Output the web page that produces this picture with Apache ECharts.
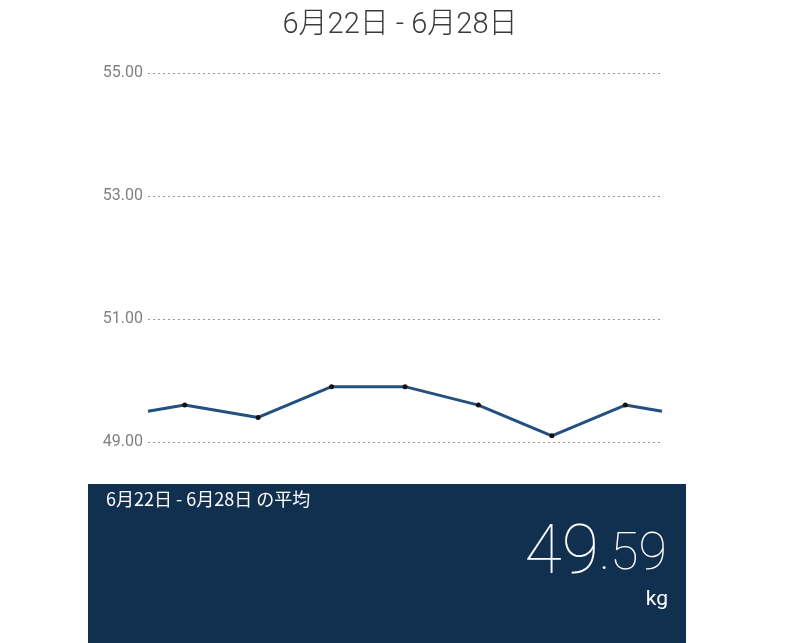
<!DOCTYPE html>
<html>
<head>
<meta charset="utf-8">
<script src="https://cdn.jsdelivr.net/npm/echarts@6/dist/echarts.min.js"></script>
<style>
  html, body { margin: 0; padding: 0; background: #fff; }
  #chart { width: 800px; height: 643px; }
</style>
</head>
<body>
<div id="chart"></div>
<script>
var days = ['6/22', '6/23', '6/24', '6/25', '6/26', '6/27', '6/28'];
var weights = [49.6, 49.4, 49.9, 49.9, 49.6, 49.1, 49.6];
// 前後の週につながる線の端の値
var edgeBefore = 49.5;
var edgeAfter = 49.5;
var yTicks = [49, 51, 53, 55];
var titleText = '6月22日 - 6月28日';
var avgLabel = '6月22日 - 6月28日 の平均';

var sum = 0;
weights.forEach(function (v) { sum += v; });
var avg = (sum / weights.length).toFixed(2);
var avgInt = avg.split('.')[0];
var avgDec = '.' + avg.split('.')[1];

var lineData = [[0, edgeBefore]];
weights.forEach(function (v, i) {
  lineData.push({ value: [i + 0.5, v], symbol: 'circle', symbolSize: 5, name: days[i] });
});
lineData.push([days.length, edgeAfter]);

var font = '"Roboto", "Noto Sans CJK JP", sans-serif';

var option = {
  animation: false,
  title: {
    text: titleText,
    left: 'center',
    top: 6,
    textStyle: { fontFamily: font, fontWeight: 300, fontSize: 29, color: '#3a3a3a' }
  },
  grid: { left: 148, right: 138, top: 73, bottom: 201 },
  xAxis: {
    type: 'value',
    min: 0,
    max: days.length,
    show: false
  },
  yAxis: {
    type: 'value',
    min: yTicks[0],
    max: yTicks[yTicks.length - 1],
    interval: 2,
    axisLine: { show: false },
    axisTick: { show: false },
    axisLabel: {
      margin: 5,
      fontFamily: font,
      fontSize: 16,
      color: '#808080',
      formatter: function (v) { return v.toFixed(2); }
    },
    splitLine: { lineStyle: { type: [2, 3], color: '#999', width: 1 } }
  },
  series: [{
    type: 'line',
    data: lineData,
    symbol: 'none',
    showSymbol: true,
    itemStyle: { color: '#111' },
    lineStyle: { color: '#24507f', width: 3 }
  }],
  graphic: [
    {
      type: 'rect',
      shape: { x: 88, y: 484, width: 598, height: 170 },
      style: { fill: '#11304f' }
    },
    {
      type: 'text',
      x: 106,
      y: 490,
      style: { text: avgLabel, fill: '#fff', font: '18px "Noto Sans CJK JP", sans-serif' }
    },
    {
      type: 'text',
      x: 667,
      y: 590,
      style: {
        text: '{a|' + avgInt + '}{b|' + avgDec + '}',
        align: 'right',
        verticalAlign: 'bottom',
        fill: '#fff',
        rich: {
          a: { fontSize: 68, fontFamily: font, fontWeight: 100, color: '#fff' },
          b: { fontSize: 52, fontFamily: font, fontWeight: 100, color: '#fff' }
        }
      }
    },
    {
      type: 'text',
      x: 668,
      y: 589,
      style: { text: 'kg', align: 'right', fill: '#fff', font: '21px "Roboto", sans-serif' }
    }
  ]
};

var myChart = echarts.init(document.getElementById('chart'));
myChart.setOption(option);
</script>
</body>
</html>
